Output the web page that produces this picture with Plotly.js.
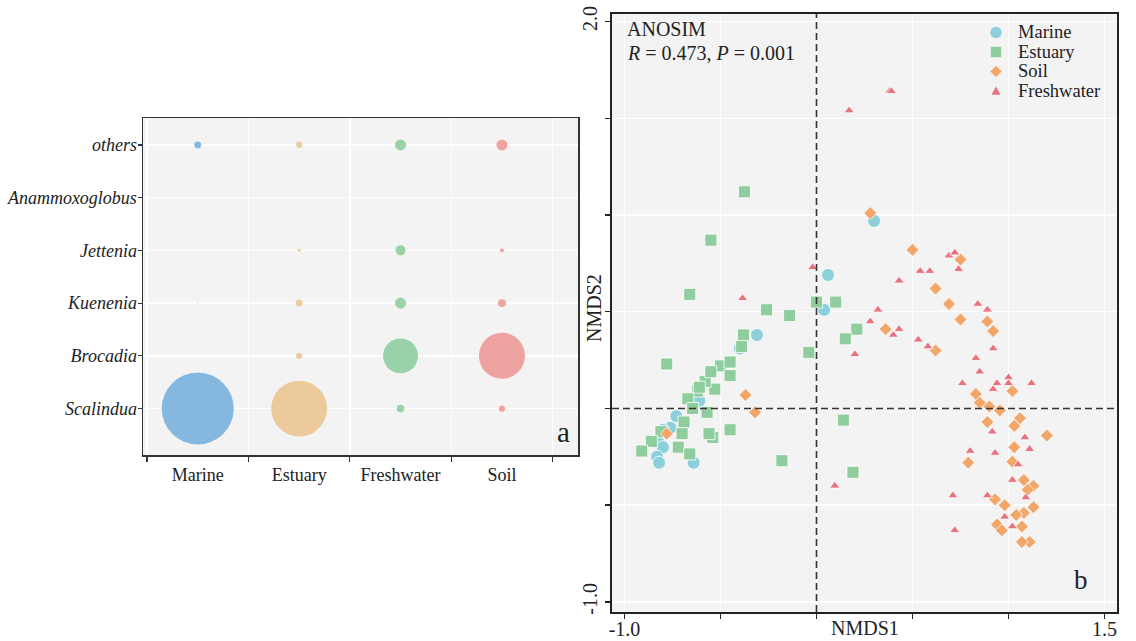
<!DOCTYPE html>
<html><head><meta charset="utf-8">
<script src="https://cdn.plot.ly/plotly-3.0.1.min.js"></script>
<style>html,body{margin:0;padding:0;background:#fff}#chart{width:1136px;height:641px}</style>
</head><body><div id="chart"></div>
<script>
// ---------- Panel a: relative abundance of anammox genera (%) ----------
const genera = ['Scalindua','Brocadia','Kuenenia','Jettenia','Anammoxoglobus','others'];
const environments = ['Marine','Estuary','Freshwater','Soil'];
const abundMarine     = [98,   0,   0.02, 0,    0, 0.9];
const abundEstuary    = [59,   0.7, 0.9,  0.17, 0, 0.7];
const abundFreshwater = [1.1,  23,  2.3,  1.9,  0, 2.3];
const abundSoil       = [0.75, 40,  1.2,  0.3,  0, 2.3];

// ---------- Panel b: NMDS ordination ----------
const marineX = [0.06,0.04,0.30,-0.31,-0.40,-0.61,-0.73,-0.76,-0.80,-0.82,-0.80,-0.83,-0.82,-0.64];
const marineY = [0.69,0.51,0.97,0.38,0.31,0.04,-0.04,-0.10,-0.11,-0.18,-0.20,-0.25,-0.28,-0.28];

const estuaryX = [-0.375,-0.55,-0.66,-0.26,-0.14,0.00,0.10,-0.38,-0.39,0.21,0.15,-0.04,-0.78,-0.50,-0.45,-0.45,-0.53,-0.58,-0.55,-0.62,-0.67,-0.645,-0.57,-0.69,-0.45,-0.54,-0.56,-0.81,-0.86,-0.91,-0.72,-0.66,-0.18,0.14,0.19,-0.61,-0.70];
const estuaryY = [1.12,0.87,0.59,0.51,0.48,0.55,0.55,0.38,0.32,0.41,0.36,0.29,0.23,0.22,0.24,0.17,0.10,0.14,0.19,0.09,0.05,0.00,-0.02,-0.07,-0.11,-0.15,-0.13,-0.12,-0.17,-0.22,-0.20,-0.235,-0.27,-0.06,-0.33,0.11,-0.13];

const soilX = [0.28,0.50,0.75,0.62,0.69,0.75,0.36,0.62,0.89,0.92,0.83,1.02,0.85,0.90,0.955,1.06,0.89,1.03,1.20,1.03,1.02,0.79,1.08,1.13,1.10,0.93,0.98,1.13,1.08,1.04,0.94,0.965,1.07,1.11,1.07,-0.37,-0.32,-0.78];
const soilY = [1.01,0.82,0.77,0.62,0.54,0.46,0.41,0.30,0.45,0.40,0.075,0.09,0.03,0.01,-0.01,-0.05,-0.07,-0.09,-0.14,-0.20,-0.275,-0.28,-0.37,-0.40,-0.42,-0.47,-0.50,-0.51,-0.54,-0.55,-0.60,-0.63,-0.61,-0.69,-0.69,0.07,-0.02,-0.13];

const freshX = [0.38,0.39,0.17,-0.02,-0.385,0.20,0.69,0.72,0.74,0.54,0.59,0.43,0.32,0.28,0.40,0.43,0.53,0.58,0.84,0.89,0.92,0.83,0.85,0.76,0.92,0.94,1.00,1.00,1.12,0.915,1.085,1.11,0.80,0.93,1.05,1.02,0.71,0.89,1.09,0.98,1.02,0.72,0.095];
const freshY = [1.64,1.64,1.54,0.73,0.57,0.28,0.79,0.805,0.72,0.71,0.71,0.66,0.51,0.45,0.38,0.41,0.355,0.32,0.54,0.51,0.31,0.26,0.19,0.13,0.10,0.13,0.16,0.13,0.13,-0.12,-0.15,-0.21,-0.22,-0.23,-0.29,-0.37,-0.45,-0.45,-0.46,-0.56,-0.61,-0.63,-0.40];

const legendNames = ['Marine','Estuary','Soil','Freshwater'];
const xTickVals = [-1.0,-0.5,0,0.5,1.0,1.5];
const xTickText = ['-1.0','','','','','1.5'];
const yTickVals = [-1.0,-0.5,0,0.5,1.0,1.5,2.0];
const yTickText = ['-1.0','','','','','','2.0'];

// ---------- styling ----------
const W = 1136, H = 641;
const px = v => v / W;
const py = v => 1 - v / H;
const SERIF = 'Liberation Serif, Times New Roman, serif';
const bubbleColors = {Marine:'#7db4de', Estuary:'#ecc796', Freshwater:'#93d0a4', Soil:'#ee9e9b'};
const ptColors = {Marine:'#8dd0dc', Estuary:'#8fcc9e', Soil:'#f3a66a', Freshwater:'#e8737f'};

const abund = {Marine:abundMarine, Estuary:abundEstuary, Freshwater:abundFreshwater, Soil:abundSoil};
const traces = [];
environments.forEach(env => {
  traces.push({
    type:'scatter', mode:'markers', xaxis:'x', yaxis:'y',
    x: genera.map(() => env), y: genera, showlegend:false, hoverinfo:'skip',
    marker:{size: abund[env], sizemode:'area', sizeref: 0.0378, sizemin:0,
            color: bubbleColors[env], opacity:0.95, line:{width:0}}
  });
});

function nmds(x, y, name, symbol, size) {
  return {type:'scatter', mode:'markers', xaxis:'x2', yaxis:'y2', x, y, name,
    showlegend:false, hoverinfo:'skip',
    marker:{symbol, size, color: ptColors[name], line:{color:'#ffffff', width:0.8}}};
}
traces.push(nmds(marineX, marineY, 'Marine', 'circle', 13));
traces.push(nmds(estuaryX, estuaryY, 'Estuary', 'square', 12));
traces.push(nmds(soilX, soilY, 'Soil', 'diamond', 10));
traces.push(nmds(freshX, freshY, 'Freshwater', 'triangle-up', 9));

const shapes = [
  {type:'line', xref:'x2', yref:'y2 domain', x0:0, x1:0, y0:0, y1:1, line:{color:'#333', width:1.6, dash:'7px,4px'}},
  {type:'line', xref:'x2 domain', yref:'y2', x0:0, x1:1, y0:0, y1:0, line:{color:'#333', width:1.6, dash:'7px,4px'}}
];
// custom legend keys
const legRows = [32.5, 52, 71.5, 91];
const legX = 996;
const keyPaths = [
  null,
  null,
  'M 0 6 L 6 0 L 0 -6 L -6 0 Z',
  'M -5 -4 L 5 -4 L 0 5 Z'
];
legendNames.forEach((nm, i) => {
  const base = {xref:'paper', yref:'paper', xsizemode:'pixel', ysizemode:'pixel',
    xanchor: px(legX), yanchor: py(legRows[i]), fillcolor: ptColors[nm], line:{color:'#ffffff', width:0.5}};
  if (i === 0) shapes.push(Object.assign({type:'circle', x0:-6, x1:6, y0:-6, y1:6}, base));
  else if (i === 1) shapes.push(Object.assign({type:'rect', x0:-5.5, x1:5.5, y0:-5.5, y1:5.5}, base));
  else shapes.push(Object.assign({type:'path', path:keyPaths[i]}, base));
});

const annotations = [
  {text:'ANOSIM', x:px(625), y:py(29), xref:'paper', yref:'paper', xanchor:'left', yanchor:'middle', showarrow:false, font:{family:SERIF, size:20, color:'#222'}},
  {text:'<i>R</i> = 0.473, <i>P</i> = 0.001', x:px(625), y:py(53), xref:'paper', yref:'paper', xanchor:'left', yanchor:'middle', showarrow:false, font:{family:SERIF, size:20, color:'#222'}},
  {text:'a', x:px(563), y:py(432), xref:'paper', yref:'paper', xanchor:'center', yanchor:'middle', showarrow:false, font:{family:SERIF, size:29, color:'#222'}},
  {text:'b', x:px(1081), y:py(580), xref:'paper', yref:'paper', xanchor:'center', yanchor:'middle', showarrow:false, font:{family:SERIF, size:27, color:'#222'}},
  {text:'NMDS1', x:px(865), y:py(628), xref:'paper', yref:'paper', xanchor:'center', yanchor:'middle', showarrow:false, font:{family:SERIF, size:20, color:'#222'}},
  {text:'NMDS2', x:px(594), y:py(308), xref:'paper', yref:'paper', xanchor:'center', yanchor:'middle', textangle:-90, showarrow:false, font:{family:SERIF, size:20, color:'#222'}}
];
legendNames.forEach((nm, i) => {
  annotations.push({text:nm, x:px(1017), y:py(legRows[i]), xref:'paper', yref:'paper', xanchor:'left', yanchor:'middle',
    borderpad:0, showarrow:false, font:{family:SERIF, size:18.5, color:'#222'}});
});

const layout = {
  width:W, height:H, autosize:false,
  margin:{l:0, r:0, t:0, b:0},
  paper_bgcolor:'#ffffff', plot_bgcolor:'#f3f3f3',
  showlegend:false,
  xaxis:{domain:[px(143), px(578)], anchor:'y', type:'category', categoryarray:environments, categoryorder:'array',
    range:[-0.54, 3.75], tickson:'boundaries', ticks:'outside', ticklen:5, tickwidth:1.2, tickcolor:'#333',
    ticklabelstandoff:3,
    showgrid:true, gridcolor:'#ffffff', gridwidth:1.5, zeroline:false,
    showline:true, mirror:true, linecolor:'#333', linewidth:1.5,
    tickfont:{family:SERIF, size:18, color:'#222'}, automargin:false, fixedrange:true},
  yaxis:{domain:[py(455), py(118)], anchor:'x', type:'category', categoryarray:genera, categoryorder:'array',
    range:[-0.88, 5.51], ticks:'outside', ticklen:4, tickwidth:1.2, tickcolor:'#333',
    ticklabelstandoff:-3,
    showgrid:true, gridcolor:'#ffffff', gridwidth:1.5, zeroline:false,
    showline:true, mirror:true, linecolor:'#333', linewidth:1.5,
    tickfont:{family:SERIF, size:18, color:'#222', style:'italic'}, automargin:false, fixedrange:true},
  xaxis2:{domain:[px(612), px(1117)], anchor:'y2', range:[-1.065, 1.565],
    tickmode:'array', tickvals:xTickVals, ticktext:xTickText, ticks:'outside', ticklen:5, tickwidth:1.5, tickcolor:'#222',
    ticklabelstandoff:-7,
    showgrid:true, gridcolor:'#ffffff', gridwidth:1.5, zeroline:false,
    showline:true, mirror:true, linecolor:'#222', linewidth:2,
    tickfont:{family:SERIF, size:20, color:'#222'}, automargin:false, fixedrange:true},
  yaxis2:{domain:[py(612), py(14)], anchor:'x2', range:[-1.052, 2.039],
    tickmode:'array', tickvals:yTickVals, ticktext:yTickText, ticks:'outside', ticklen:5, tickwidth:1.5, tickcolor:'#222',
    tickangle:-90,
    showgrid:true, gridcolor:'#ffffff', gridwidth:1.5, zeroline:false,
    showline:true, mirror:true, linecolor:'#222', linewidth:2,
    tickfont:{family:SERIF, size:20, color:'#222'}, automargin:false, fixedrange:true},
  shapes, annotations
};

Plotly.newPlot('chart', traces, layout, {displayModeBar:false, staticPlot:true});
</script>
</body></html>
